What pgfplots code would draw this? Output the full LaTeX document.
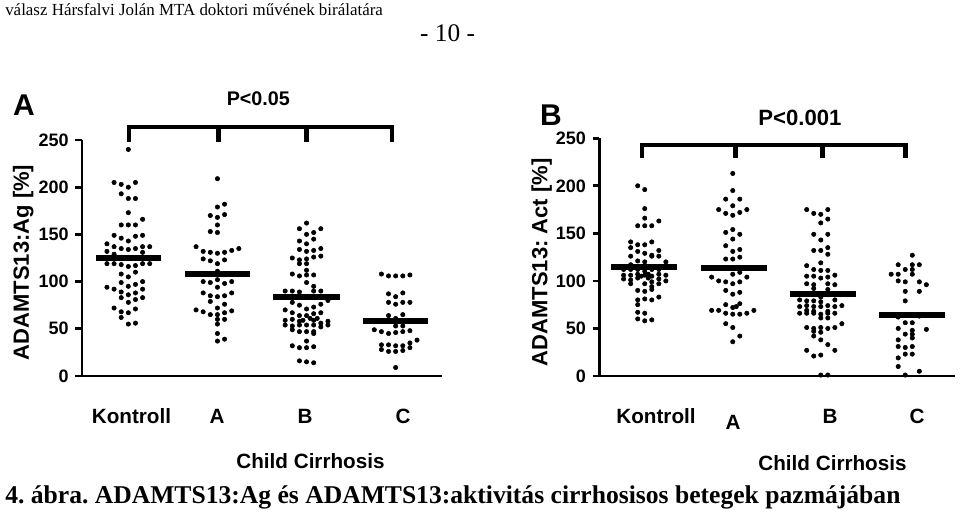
\documentclass[border=0pt]{standalone}
\usepackage{pgfplots}
\pgfplotsset{compat=1.18}
\usepackage{fontspec}
\setmainfont{Liberation Serif}
\newfontfamily\arial{Liberation Sans}
\frenchspacing
\begin{document}
\begin{tikzpicture}[x=0.75pt,y=0.75pt]
\useasboundingbox (0,0) rectangle (960,513);
\pgfplotsset{
  dotplot/.style={
    scale only axis, clip=false,
    axis x line*=bottom, axis y line*=left,
    axis line style={line width=2.2pt, black},
    ymin=0, ymax=250, ytick={0,50,...,250},
    xtick=\empty,
    tick align=outside, major tick length=5pt,
    ytick style={line width=2pt, black},
    /pgf/number format/assume math mode=true,
    yticklabel style={font=\arial\bfseries\fontsize{13.5}{15}\selectfont, xshift=-1.5pt},
    ylabel style={font=\arial\bfseries\fontsize{16.5}{18}\selectfont, anchor=center},
  },
  dots/.style={only marks, mark=*, mark size=1.65pt, black},
  med/.style={no marks, black, line width=4.4pt},
  brk/.style={no marks, black, line width=3.4pt, line join=miter},
}
% ---------------- Panel A ----------------
\begin{axis}[dotplot, at={(61.5pt,102.75pt)}, anchor=south west, width=270pt, height=177pt,
  xmin=0.48, xmax=4.52, ylabel={ADAMTS13:Ag [\%]},
  ylabel style={at={(axis description cs:-0.163,0.481)}}]
% Kontroll
\addplot[dots] coordinates {
(1.00,240)
(0.84,205) (0.92,203) (1.00,200) (1.08,205)
(0.92,193) (1.00,188) (1.08,188)
(1.00,173) (1.16,166)
(0.92,160) (1.00,160) (1.08,160)
(0.84,149) (0.92,146) (1.00,143) (1.08,148) (1.16,149)
(0.76,140) (0.84,137) (0.92,135) (1.00,134) (1.08,135) (1.16,137) (1.24,137)
(0.76,132) (0.84,129) (1.16,131)
(0.76,119) (0.84,119) (0.92,118) (1.00,116) (1.08,117) (1.16,119) (1.24,119)
(0.92,108) (1.00,105) (1.08,110)
(0.92,99) (1.00,95) (1.08,97) (1.16,100)
(0.76,94) (0.84,92) (0.92,89) (1.00,86) (1.08,88) (1.16,92)
(0.92,83) (1.00,78) (1.08,81) (1.16,83)
(0.84,72) (0.92,68) (1.00,67) (1.08,71)
(0.92,62) (1.00,55) (1.08,56)
};
% Child A
\addplot[dots] coordinates {
(2.00,209)
(2.00,179) (2.08,182)
(1.92,170) (2.00,168) (2.08,171)
(2.00,160)
(1.92,153) (2.00,152)
(1.76,137) (1.84,132) (1.92,131) (2.00,130) (2.08,131) (2.16,133) (2.24,135)
(1.84,124) (1.92,122) (2.00,119) (2.08,123)
(2.00,111)
(1.84,100) (1.92,99) (2.00,102) (2.00,94) (2.08,98) (2.16,100)
(1.84,88) (1.92,85) (2.00,84) (2.08,85) (2.16,88)
(1.92,79)
(2.00,72) (2.08,76)
(1.76,70) (1.84,68) (1.92,65) (2.00,65) (2.08,67) (2.16,69)
(2.00,60) (2.08,60)
(2.00,55) (2.00,45)
(2.00,37) (2.08,39)
};
% Child B
\addplot[dots] coordinates {
(3.00,162)
(2.92,156) (3.00,150) (3.08,152) (3.16,156)
(2.92,143) (3.00,140) (3.08,145)
(2.92,134) (3.00,132) (3.08,133) (3.16,135)
(2.84,125) (2.92,123) (3.00,124) (3.08,126) (3.16,127)
(2.92,119) (3.00,119)
(3.00,112)
(2.84,108) (2.92,106) (3.00,107) (3.08,107)
(3.00,99) (3.08,95)
(2.76,90) (2.84,90) (2.92,89) (3.08,90) (3.16,90)
(2.84,78) (3.24,80)
(2.92,75) (3.00,71) (3.08,73) (3.16,76)
(2.76,70) (2.84,67) (2.92,64) (3.00,64) (3.08,66) (3.16,67)
(2.76,59) (2.84,60) (2.92,58) (2.96,59) (3.04,61) (3.08,59) (3.12,61) (3.16,56) (3.24,58)
(2.76,54) (2.84,53) (2.92,54) (3.00,54) (3.08,54) (3.16,52) (3.24,54)
(2.84,49) (2.92,47) (3.00,47) (3.08,47) (3.08,45)
(3.00,37)
(2.84,32) (2.92,30) (3.00,30) (3.08,31)
(2.92,16) (3.00,15) (3.08,14)
};
% Child C
\addplot[dots] coordinates {
(3.84,108) (3.92,106) (4.00,106) (4.08,106) (4.16,107)
(3.92,87) (4.00,84) (4.08,88)
(3.92,78) (4.00,76) (4.08,78) (4.16,78)
(3.92,64) (4.08,65)
(4.00,61)
(4.00,53) (4.08,53)
(3.76,49) (3.84,47) (3.92,45) (4.00,46) (4.08,47) (4.16,48)
(4.24,38)
(3.84,33) (3.92,33) (4.00,32) (4.08,32) (4.16,35) (4.16,30)
(3.84,28) (3.92,26) (4.00,26) (4.08,27)
(4.00,9)
};
% medians
\addplot[med] coordinates {(0.637,125) (1.363,125)};
\addplot[med] coordinates {(1.634,108) (2.366,108)};
\addplot[med] coordinates {(2.62,84) (3.37,84)};
\addplot[med] coordinates {(3.63,58) (4.36,58)};
% bracket
\addplot[brk] coordinates {(1.01,248) (1.01,264) (3.96,264) (3.96,248)};
\addplot[brk] coordinates {(2.01,264) (2.01,248)};
\addplot[brk] coordinates {(3.0,264) (3.0,248)};
\end{axis}
% ---------------- Panel B ----------------
\begin{axis}[dotplot, at={(449.5pt,102.75pt)}, anchor=south west, width=266.8pt, height=178.3pt,
  xmin=0.484, xmax=4.526, ylabel={ADAMTS13: Act [\%]},
  ylabel style={at={(axis description cs:-0.162,0.478)}}]
% Kontroll
\addplot[dots] coordinates {
(0.92,200) (1.00,196)
(1.00,176)
(1.00,166) (1.16,163) (0.92,158) (1.00,158) (1.08,158)
(0.84,141) (0.92,138) (1.00,138) (1.08,141)
(0.84,135) (0.92,131) (1.00,129) (1.08,127) (1.16,132)
(0.84,126) (1.08,126) (1.16,126)
(0.92,121) (1.00,120) (0.84,117) (1.24,120)
(0.76,112) (0.84,112) (0.92,112) (1.00,110) (1.08,112) (1.16,112)
(0.76,106) (0.84,106) (0.92,107) (1.00,106) (1.04,107) (1.08,105) (1.16,107) (1.24,106)
(0.76,102) (0.84,101) (0.92,103) (0.96,105) (1.04,103) (1.08,99) (1.16,102) (1.24,100)
(0.84,97) (1.00,97) (1.08,94) (1.16,97)
(0.92,90) (1.00,89) (1.08,91)
(0.92,80) (1.00,81) (1.08,80) (1.16,83)
(0.92,75)
(0.92,67) (1.00,66)
(0.92,60) (1.00,58) (1.08,59)
};
% Child A
\addplot[dots] coordinates {
(2.00,213)
(2.00,195)
(1.92,186) (2.08,186)
(2.00,179)
(1.84,175) (1.92,171) (2.00,169) (2.08,172) (2.16,175)
(1.92,151) (2.00,154) (2.08,149)
(2.00,144)
(1.92,137)
(2.00,131) (2.08,133)
(1.92,123) (2.00,123) (2.08,125)
(2.00,107) (2.08,109)
(1.76,104) (1.84,100) (1.92,99) (2.00,97) (2.08,99) (2.16,104)
(1.92,90) (2.00,86) (2.08,88)
(1.92,75) (2.00,72) (2.04,73) (2.08,76)
(1.76,69) (1.84,69) (1.92,66) (2.00,65) (2.08,65) (2.16,66) (2.24,69)
(1.92,55) (2.00,51)
(2.00,36) (2.08,42)
};
% Child B
\addplot[dots] coordinates {
(2.84,175) (3.08,175) (2.92,171) (3.00,170)
(3.00,161) (3.08,165)
(2.92,149) (3.08,149)
(3.00,143)
(3.08,135)
(2.92,132) (3.00,132)
(3.08,128)
(3.00,119)
(2.84,116) (2.92,112) (3.00,111) (3.08,111) (3.16,106)
(2.84,105) (2.92,105) (3.00,103) (3.08,104)
(2.84,97) (2.92,96) (3.08,97) (3.16,96)
(3.08,91) (2.92,92)
(3.00,86) (3.00,83)
(2.76,80) (2.84,79) (2.92,79) (3.00,78) (3.16,80)
(2.76,73) (2.84,74) (2.92,73) (3.00,73) (3.08,74) (3.16,73) (3.24,74)
(2.84,69) (2.92,68) (3.08,68)
(2.76,66) (2.84,66) (2.92,66) (3.00,65) (3.08,66) (3.16,66)
(3.00,61) (3.08,61)
(3.24,55)
(2.84,51) (2.92,50) (3.00,51) (3.08,50) (3.16,51)
(2.92,47) (3.00,46)
(2.92,42)
(3.00,38)
(3.08,33)
(2.84,27) (3.16,27)
(2.92,21) (3.00,22)
(3.00,1) (3.08,1)
};
% Child C
\addplot[dots] coordinates {
(4.04,127)
(3.88,117) (4.04,117) (4.12,117)
(3.96,112) (4.04,112)
(3.80,107) (3.88,107) (4.04,107)
(3.88,100) (3.96,99) (4.12,99) (4.20,96)
(3.96,89) (4.12,89)
(3.96,79)
(3.88,62) (4.12,63) (4.04,64)
(3.96,56) (4.04,56)
(3.88,50) (4.04,48) (4.20,49)
(3.96,44) (4.04,44)
(3.88,38) (4.04,40)
(3.88,31) (3.96,30) (4.04,31)
(3.96,23) (4.04,23)
(3.88,19)
(3.88,10)
(4.12,5)
(3.96,1)
};
% medians
\addplot[med] coordinates {(0.618,115) (1.37,115)};
\addplot[med] coordinates {(1.64,114) (2.386,114)};
\addplot[med] coordinates {(2.65,86) (3.40,86)};
\addplot[med] coordinates {(3.66,64) (4.41,64)};
% bracket
\addplot[brk] coordinates {(0.97,229) (0.97,243) (3.96,243) (3.96,229)};
\addplot[brk] coordinates {(2.03,243) (2.03,229)};
\addplot[brk] coordinates {(3.02,243) (3.02,229)};
\end{axis}
% ---------------- Texts ----------------
\node[anchor=west, inner sep=0pt, font=\fontsize{12.7}{14}\selectfont] at (5,503) {válasz Hársfalvi Jolán MTA doktori művének birálatára};
\node[inner sep=0pt, font=\fontsize{19}{21}\selectfont] at (447.5,480) {- 10 -};
\node[inner sep=0pt, font=\arial\bfseries\fontsize{22.5}{25}\selectfont] at (24,408) {A};
\node[inner sep=0pt, font=\arial\bfseries\fontsize{22.5}{25}\selectfont] at (551,398) {B};
\node[inner sep=0pt, font=\arial\bfseries\fontsize{14.8}{16}\selectfont] at (258.3,414.7) {P<0.05};
\node[inner sep=0pt, font=\arial\bfseries\fontsize{16.6}{18}\selectfont] at (800,394.7) {P<0.001};
\begin{scope}[every node/.style={inner sep=0pt, font=\arial\bfseries\fontsize{15.5}{17}\selectfont}]
\node at (131.5,97) {Kontroll};
\node at (217,97) {A};
\node at (305,97) {B};
\node at (403,97) {C};
\node at (656,97) {Kontroll};
\node at (733,91) {A};
\node at (830,97) {B};
\node at (917,97) {C};
\node at (310.5,52) {Child Cirrhosis};
\node at (832.5,50) {Child Cirrhosis};
\end{scope}
\node[anchor=west, inner sep=0pt, font=\bfseries\fontsize{19.2}{21}\selectfont] at (5,16) {4. ábra. ADAMTS13:Ag és ADAMTS13:aktivitás cirrhosisos betegek pazmájában};
\end{tikzpicture}
\end{document}
